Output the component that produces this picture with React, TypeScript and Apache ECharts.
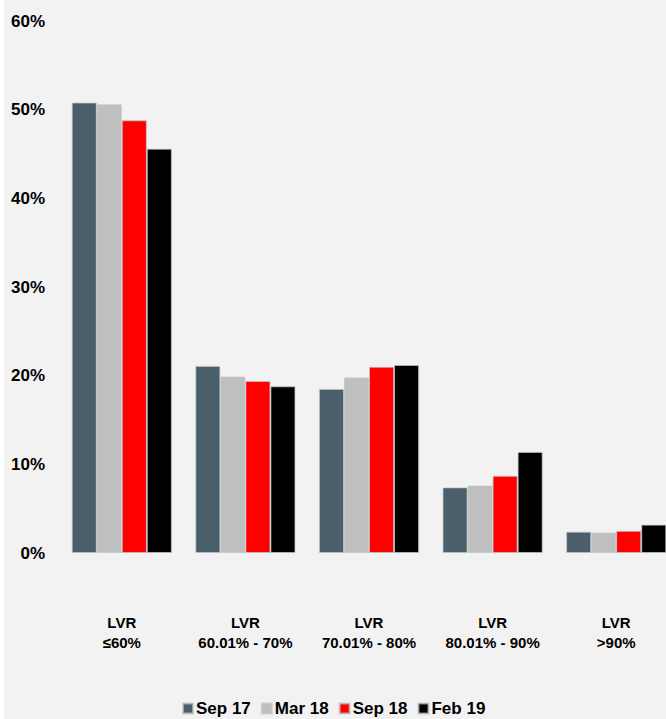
import React, { useEffect, useRef } from "react";
import * as echarts from "echarts";

const categories = ["LVR\n≤60%", "LVR\n60.01% - 70%", "LVR\n70.01% - 80%", "LVR\n80.01% - 90%", "LVR\n>90%"];
const seriesNames = ["Sep 17", "Mar 18", "Sep 18", "Feb 19"];
const sep17 = [50.8, 21.1, 18.5, 7.4, 2.4];
const mar18 = [50.6, 19.9, 19.8, 7.6, 2.3];
const sep18 = [48.8, 19.4, 21.0, 8.7, 2.5];
const feb19 = [45.6, 18.8, 21.2, 11.4, 3.2];
const colors = ["#4b5f6b", "#bfbfbf", "#ff0000", "#000000"];
const yTicks = [0, 10, 20, 30, 40, 50, 60];

export default function App() {
  const ref = useRef<HTMLDivElement>(null);
  useEffect(() => {
    document.body.style.margin = "0";
    const chart = echarts.init(ref.current!, null, { renderer: "svg" });
    const font = "'Liberation Sans', Arial, sans-serif";
    const data = [sep17, mar18, sep18, feb19];
    chart.setOption({
      animation: false,
      backgroundColor: "#f2f2f2",
      textStyle: { fontFamily: font },
      grid: { left: 56, top: 21, width: 618, height: 532, outerBoundsMode: "none" },
      legend: {
        left: 178,
        top: 700,
        padding: 0,
        itemWidth: 10,
        itemHeight: 10,
        itemGap: 10,
        icon: "rect",
        data: seriesNames,
        textStyle: { fontSize: 17, fontWeight: "bold", color: "#000", fontFamily: font, padding: [0, 0, 0, -2] },
      },
      xAxis: {
        type: "category",
        data: categories,
        axisLine: { show: false },
        axisTick: { show: false },
        axisLabel: {
          margin: 59,
          fontSize: 15,
          fontWeight: "bold",
          color: "#000",
          lineHeight: 20,
          fontFamily: font,
          interval: 0,
        },
      },
      yAxis: {
        type: "value",
        min: yTicks[0],
        max: yTicks[yTicks.length - 1],
        interval: 10,
        splitLine: { show: false },
        axisLine: { show: false },
        axisTick: { show: false },
        axisLabel: {
          margin: 15,
          fontSize: 17,
          fontWeight: "bold",
          color: "#000",
          fontFamily: font,
          formatter: "{value}%",
        },
      },
      series: seriesNames.map((name, i) => ({
        name,
        type: "bar",
        data: data[i],
        barGap: "0%",
        barCategoryGap: "19%",
        itemStyle: {
          color: colors[i],
          borderColor: "rgba(190,195,200,0.7)",
          borderWidth: 1,
        },
      })),
    });
    return () => chart.dispose();
  }, []);
  return (
    <div style={{ width: 666, height: 719, background: "#fff", position: "relative", overflow: "hidden" }}>
      <div ref={ref} style={{ position: "absolute", left: 4, top: 0, width: 680, height: 719 }} />
    </div>
  );
}
